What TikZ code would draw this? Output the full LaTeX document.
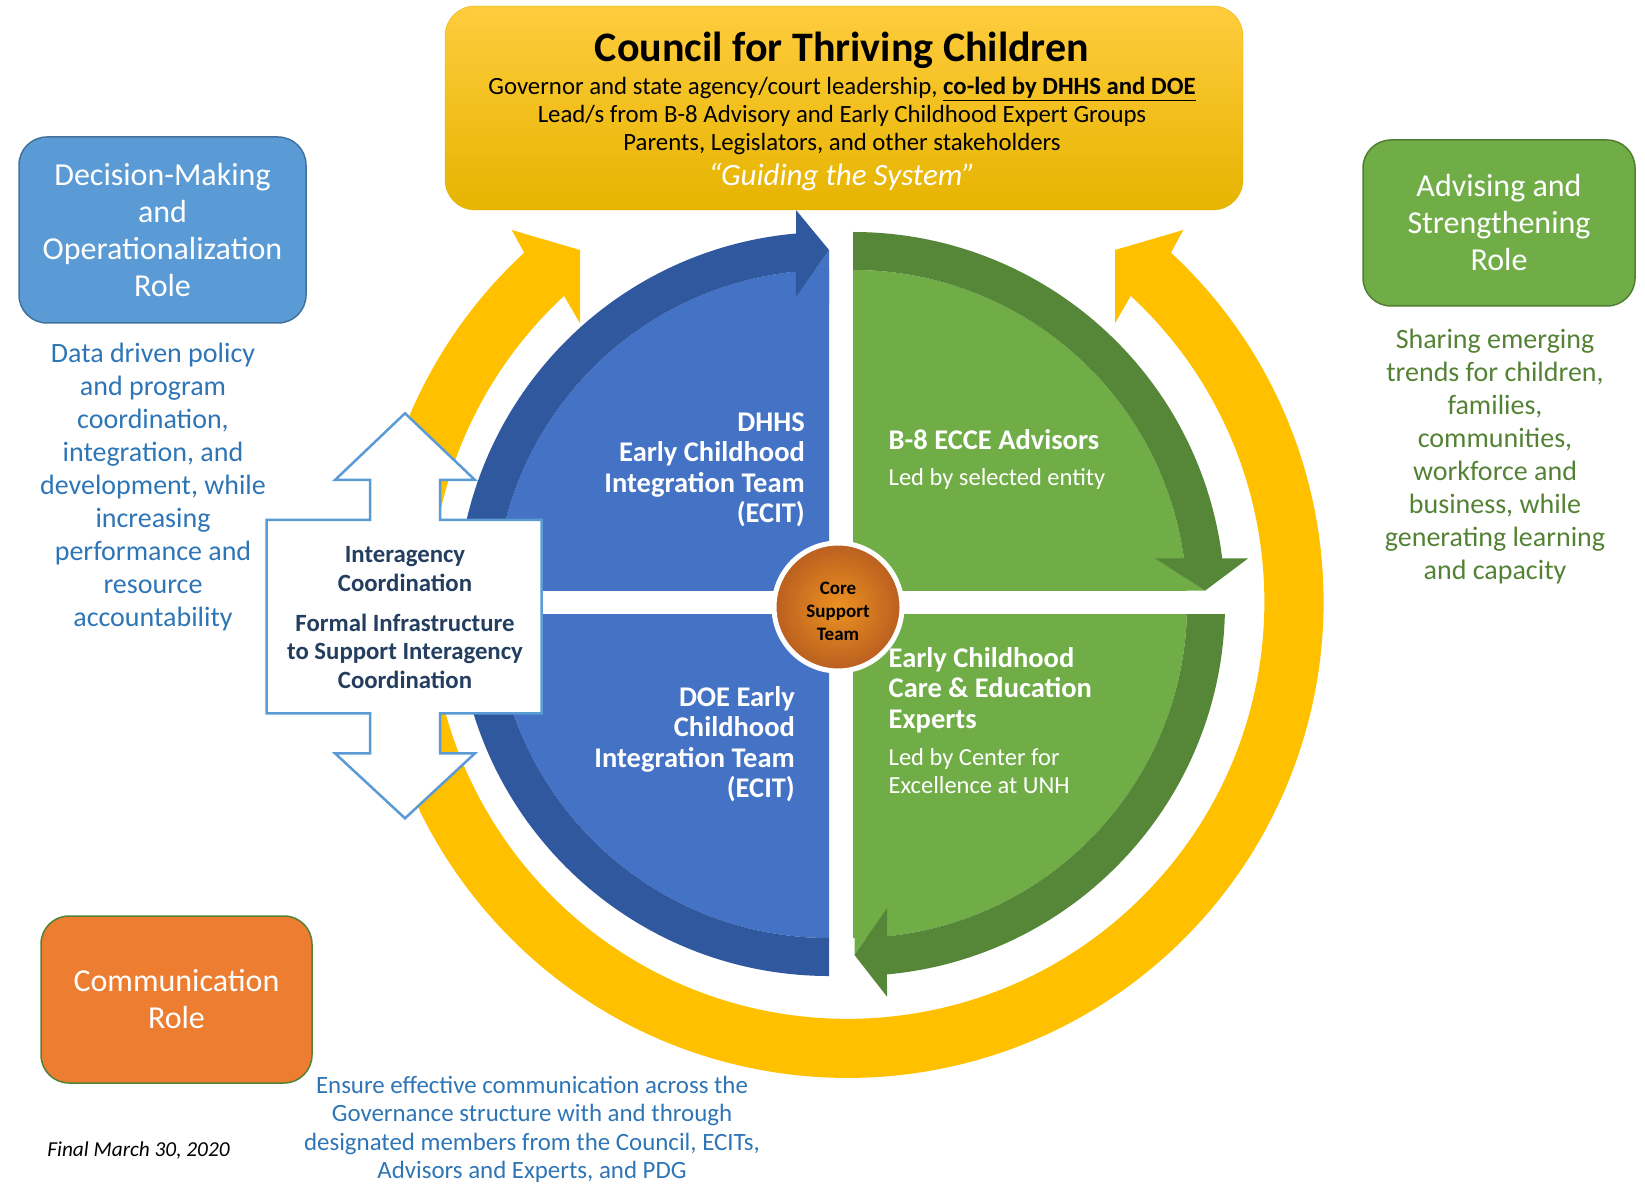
\documentclass[tikz,border=0pt]{standalone}
\usepackage{fontspec}
\setmainfont{Carlito}
\usetikzlibrary{positioning}

\definecolor{ringyellow}{RGB}{255,192,0}
\definecolor{councila}{RGB}{255,204,62}
\definecolor{councilb}{RGB}{230,180,0}
\definecolor{roleblue}{RGB}{91,155,213}
\definecolor{roleblueline}{RGB}{65,113,156}
\definecolor{rolegreen}{RGB}{112,173,71}
\definecolor{rolegreenline}{RGB}{80,126,50}
\definecolor{roleorange}{RGB}{237,125,49}
\definecolor{textblue}{RGB}{46,117,182}
\definecolor{textgreen}{RGB}{84,130,53}
\definecolor{ecitlight}{RGB}{68,114,196}
\definecolor{ecitdark}{RGB}{48,88,158}
\definecolor{eccelight}{RGB}{112,173,71}
\definecolor{eccedark}{RGB}{86,134,56}
\definecolor{coreorange}{RGB}{232,118,40}
\definecolor{coordtext}{RGB}{36,62,96}

\begin{document}
\begin{tikzpicture}[x=1pt, y=1pt,
    rolebox/.style={draw, line width=1.5pt, rounded corners=28pt, text=white, align=center, font=\fontsize{32}{37}\selectfont},
    roletext/.style={align=center, inner sep=0pt, font=\fontsize{28}{33}\selectfont},
    teamtitle/.style={text=white, inner sep=0pt, font=\bfseries\fontsize{28.5}{30.5}\selectfont},
    teamnote/.style={text=white, inner sep=0pt, font=\fontsize{24.5}{27.5}\selectfont},
    councilline/.style={inner sep=0pt, anchor=base, font=\fontsize{24.8}{28}\selectfont},
    coordtextstyle/.style={inner sep=0pt, align=center, text=coordtext, font=\bfseries\fontsize{24.8}{28.5}\selectfont}]
  \useasboundingbox (0,0) rectangle (1645,1184);

  % yellow feedback ring
  \fill[ringyellow] (524.2,931.3) arc[start angle=132.8, end angle=407.2, radius=476]
    -- (1183.3,954) -- (1115,934) -- (1115,860.7) -- (1130.7,888.1)
    arc[start angle=47.2, end angle=-227.2, radius=417]
    -- (580,860.7) -- (580,934) -- (511.7,954) -- cycle;

  % ECIT half
  \fill[ecitlight] (829,246) arc[start angle=270, end angle=90, radius=334] -- cycle;
  \fill[ecitlight] (796,887.3) -- (829,934) -- (829,880) -- cycle;
  \fill[ecitdark] (796,950.5) arc[start angle=95.1, end angle=270, radius=372] -- (829,246)
    arc[start angle=270, end angle=95.7, radius=334] -- (796,887.3) -- (829,934) -- (796,974) -- cycle;

  % advisors and experts half
  \fill[eccelight] (853,914) arc[start angle=90, end angle=-90, radius=334] -- cycle;
  \fill[eccelight] (1155,625.7) -- (1205,593.3) -- (1155,593.3) -- cycle;
  \fill[eccelight] (887,275.7) -- (854.5,229) -- (854.5,275.7) -- cycle;
  \fill[eccedark] (853,952) arc[start angle=90, end angle=7.06, radius=372]
    -- (1248.3,625.7) -- (1205,593.3) -- (1155,625.7) -- (1183.9,625.7)
    arc[start angle=7.86, end angle=90, radius=334] -- cycle;
  \fill[eccedark] (1225,580) arc[start angle=0, end angle=-84.76, radius=372]
    -- (887,187.3) -- (854.5,229) -- (887,275.7) -- (887,247.7)
    arc[start angle=-84.16, end angle=0, radius=334] -- cycle;
  \fill[white] (440,570) rectangle (1240,593);

  % interagency double arrow
  \filldraw[fill=white, draw=roleblue, line width=2.5pt]
    (266.7,664) -- (370,664) -- (370,704) -- (335,704) -- (405,770.7) -- (475,704) -- (440,704)
    -- (440,664) -- (541.7,664) -- (541.7,470.7) -- (440,470.7) -- (440,430.7) -- (475,430.7)
    -- (405,365.7) -- (335,430.7) -- (370,430.7) -- (370,470.7) -- (266.7,470.7) -- cycle;

  \node[circle, draw=white, line width=5pt, inner color=coreorange!80!yellow, outer color=coreorange!80!black,
    minimum size=128pt, inner sep=0pt] (core) at (838,577) {};
  \node[inner sep=0pt, align=center, font=\bfseries\fontsize{19}{23}\selectfont] (coretext) at (838,573) {Core\\Support\\Team};

  \node[rounded corners=30pt, top color=councila, bottom color=councilb, draw=councilb,
    minimum width=798pt, minimum height=204pt] (council) at (844,1076) {};
  \node[anchor=base, inner sep=0pt, font=\bfseries\fontsize{42}{50}\selectfont] (title) at (842,1122) {Council for Thriving Children};
  \node[councilline] (leaders) at (842,1089) {Governor and state agency/court leadership, \textbf{\underline{co-led by DHHS and DOE}}};
  \node[councilline] (leads) at (842,1061) {Lead/s from B-8 Advisory and Early Childhood Expert Groups};
  \node[councilline] (parents) at (842,1033) {Parents, Legislators, and other stakeholders};
  \node[councilline, text=white, font=\itshape\fontsize{31}{34}\selectfont] (guiding) at (842,998) {``Guiding the System''};

  \node[rolebox, fill=roleblue, draw=roleblueline, minimum width=287pt, minimum height=186pt] (decision) at (162.5,954) {Decision-Making\\and\\Operationalization\\Role};
  \node[roletext, text=textblue] (decisiontext) at (153,697) {Data driven policy\\and program\\coordination,\\integration, and\\development, while\\increasing\\performance and\\resource\\accountability};

  \node[rolebox, fill=rolegreen, draw=rolegreenline, minimum width=272pt, minimum height=166pt] (advising) at (1499,961) {Advising and\\Strengthening\\Role};
  \node[roletext, text=textgreen] (advisingtext) at (1495,727.5) {Sharing emerging\\trends for children,\\families,\\communities,\\workforce and\\business, while\\generating learning\\and capacity};

  \node[rolebox, fill=roleorange, draw=textgreen, minimum width=271pt, minimum height=167pt] (communication) at (176.5,184.5) {Communication\\Role};
  \node[roletext, text=textblue, font=\fontsize{24.9}{28.5}\selectfont] (communicationtext) at (532,54.5) {Ensure effective communication across the\\Governance structure with and through\\designated members from the Council, ECITs,\\Advisors and Experts, and PDG};
  \node[inner sep=0pt, font=\itshape\fontsize{21.3}{25}\selectfont] (final) at (138.5,34) {Final March 30, 2020};

  \node[teamtitle, anchor=east, align=right] (dhhs) at (805,714) {DHHS\\Early Childhood\\Integration Team\\(ECIT)};
  \node[teamtitle, anchor=east, align=right] (doe) at (795,440) {DOE Early\\Childhood\\Integration Team\\(ECIT)};
  \node[teamtitle, anchor=west] (advisors) at (888.5,744.5) {B-8 ECCE Advisors};
  \node[teamnote, anchor=west] (advisorslead) at (888.5,704.6) {Led by selected entity};
  \node[teamtitle, anchor=west, align=left] (experts) at (888.5,494) {Early Childhood\\Care \& Education\\Experts};
  \node[teamnote, anchor=west, align=left] (expertslead) at (888.5,413) {Led by Center for\\Excellence at UNH};

  \node[coordtextstyle] (interagency) at (405,615) {Interagency\\Coordination};
  \node[coordtextstyle] (infrastructure) at (405,533) {Formal Infrastructure\\to Support Interagency\\Coordination};
\end{tikzpicture}
\end{document}
